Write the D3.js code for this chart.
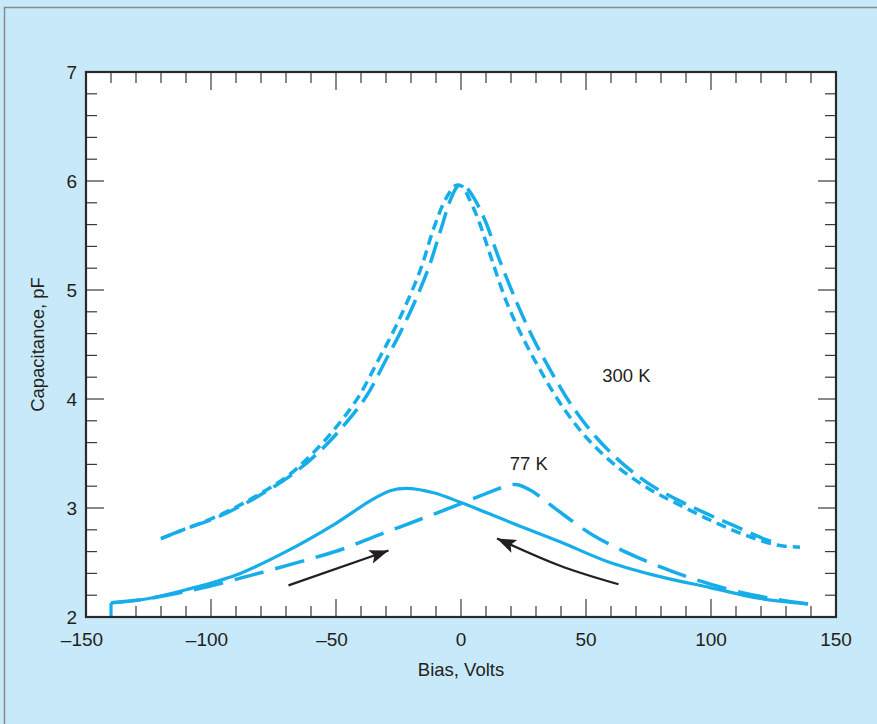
<!DOCTYPE html>
<html>
<head>
<meta charset="utf-8">
<script src="https://cdn.jsdelivr.net/npm/d3@7"></script>
<style>
  body { margin: 0; background: #c7e9f9; }
  svg { display: block; font-family: "Liberation Sans", Arial, Helvetica, sans-serif; }
</style>
</head>
<body>
<div id="chart"></div>
<script>
// bias (V), capacitance (pF)
var room300Short = [
  [-120, 2.72], [-110, 2.81], [-98, 2.92], [-85, 3.07], [-69, 3.30], [-59, 3.51],
  [-50, 3.74], [-41, 4.02], [-33, 4.36], [-27.5, 4.60], [-22.5, 4.84], [-16, 5.20],
  [-11, 5.56], [-6, 5.84], [-2, 5.96], [0.5, 5.95], [3, 5.85], [7, 5.64], [12, 5.30],
  [18.4, 4.88], [25, 4.55], [31.6, 4.27], [40, 3.95], [50.4, 3.64], [62.4, 3.38],
  [75.6, 3.17], [86.4, 3.04], [99.6, 2.89], [112.8, 2.76], [126.4, 2.66], [135.6, 2.64]
];
var room300Long = [
  [-120, 2.72], [-110, 2.81], [-97, 2.92], [-84, 3.07], [-68, 3.30], [-57, 3.51],
  [-47.5, 3.74], [-38, 4.02], [-30, 4.36], [-24.5, 4.60], [-19.5, 4.84], [-13, 5.20],
  [-8, 5.56], [-4, 5.84], [-1, 5.96], [1.5, 5.95], [5, 5.85], [9.6, 5.64], [15, 5.30],
  [22.4, 4.88], [29, 4.55], [35.6, 4.27], [44, 3.95], [54.4, 3.64], [65, 3.40],
  [76, 3.21], [87, 3.07], [98, 2.95], [109, 2.84], [120.8, 2.72], [127, 2.67]
];
var cold77Foot = [[-140, 2.0], [-140, 2.13]];
var cold77Solid = [
  [-140, 2.13], [-126, 2.165], [-110, 2.25], [-90, 2.385], [-70, 2.60], [-50, 2.86],
  [-36, 3.07], [-28, 3.16], [-22, 3.18], [-11, 3.14], [0, 3.05], [19.6, 2.87],
  [39.6, 2.69], [59.6, 2.50], [79.6, 2.37], [99.6, 2.27], [119.6, 2.17], [138.8, 2.12]
];
var cold77Dashed = [
  [-140, 2.13], [-126, 2.165], [-110, 2.235], [-103, 2.27], [-86, 2.37], [-67, 2.49],
  [-49, 2.61], [-32, 2.76], [-17, 2.89], [0, 3.04], [12, 3.15], [18, 3.20], [22, 3.215],
  [28, 3.16], [38, 2.99], [52.8, 2.75], [70.4, 2.55], [90.4, 2.37], [113, 2.22],
  [127, 2.16], [138.8, 2.12]
];
var arrowUp = [[-69, 2.29], [-29, 2.61]];
var arrowDown = [[63, 2.30], [39.6, 2.47], [14.4, 2.72]];

var xTicks = [-150, -100, -50, 0, 50, 100, 150];
var yTicks = [2, 3, 4, 5, 6, 7];
var curveLabels = [
  {text: "300 K", v: 56.5, c: 4.16},
  {text: "77 K", v: 19.5, c: 3.35}
];

var width = 877, height = 724;
var margin = {top: 72, right: 41, bottom: 107, left: 86};
var blue = "#17ade9";
var ink = "#231f20";

var x = d3.scaleLinear().domain([-150, 150]).range([margin.left, width - margin.right]);
var y = d3.scaleLinear().domain([2, 7]).range([height - margin.bottom, margin.top]);

var svg = d3.select("#chart").append("svg")
    .attr("width", width)
    .attr("height", height);

// panel frame
svg.append("rect")
    .attr("x", 4.5).attr("y", 7.5)
    .attr("width", width + 10).attr("height", height + 10)
    .attr("fill", "#c7e9f9")
    .attr("stroke", "#8a8a8a")
    .attr("stroke-width", 1.5);

svg.append("rect")
    .attr("x", x(-150)).attr("y", y(7))
    .attr("width", x(150) - x(-150)).attr("height", y(2) - y(7))
    .attr("fill", "white");

// arrow head
svg.append("defs").append("marker")
    .attr("id", "head")
    .attr("markerUnits", "userSpaceOnUse")
    .attr("viewBox", "-20 -8 22 16")
    .attr("refX", 0).attr("refY", 0)
    .attr("markerWidth", 22).attr("markerHeight", 16)
    .attr("orient", "auto")
    .append("path")
    .attr("d", "M0,0 L-19,-7 L-15,0 L-19,7 Z")
    .attr("fill", ink);

// ticks, inward on all four sides
var minorX = d3.range(-140, 150, 10);
var minorY = d3.range(2.2, 7, 0.2);

function tickLen(major) { return major ? 18 : 11; }

var tickG = svg.append("g").attr("stroke", "#3a3a3a").attr("stroke-width", 1.2);
minorX.forEach(function (v) {
  var len = tickLen(v % 50 === 0);
  tickG.append("line").attr("x1", x(v)).attr("x2", x(v)).attr("y1", y(2)).attr("y2", y(2) - len);
  tickG.append("line").attr("x1", x(v)).attr("x2", x(v)).attr("y1", y(7)).attr("y2", y(7) + len);
});
minorY.forEach(function (c) {
  var len = tickLen(Math.abs(c - Math.round(c)) < 1e-6);
  tickG.append("line").attr("x1", x(-150)).attr("x2", x(-150) + len).attr("y1", y(c)).attr("y2", y(c));
  tickG.append("line").attr("x1", x(150)).attr("x2", x(150) - len).attr("y1", y(c)).attr("y2", y(c));
});

// curves
var line = d3.line()
    .x(function (d) { return x(d[0]); })
    .y(function (d) { return y(d[1]); })
    .curve(d3.curveCatmullRom.alpha(0.5));

var straight = d3.line()
    .x(function (d) { return x(d[0]); })
    .y(function (d) { return y(d[1]); });

svg.append("path").datum(room300Long)
    .attr("d", line).attr("fill", "none")
    .attr("stroke", blue).attr("stroke-width", 3.5)
    .attr("stroke-dasharray", "22,9");

svg.append("path").datum(room300Short)
    .attr("d", line).attr("fill", "none")
    .attr("stroke", blue).attr("stroke-width", 3.5)
    .attr("stroke-dasharray", "10,6");

svg.append("path").datum(cold77Dashed)
    .attr("d", line).attr("fill", "none")
    .attr("stroke", blue).attr("stroke-width", 3.5)
    .attr("stroke-dasharray", "30,12");

svg.append("path").datum(cold77Solid)
    .attr("d", line).attr("fill", "none")
    .attr("stroke", blue).attr("stroke-width", 3.2);

svg.append("path").datum(cold77Foot)
    .attr("d", straight).attr("fill", "none")
    .attr("stroke", blue).attr("stroke-width", 3.2);

// arrows
svg.append("path").datum(arrowUp)
    .attr("d", straight).attr("fill", "none")
    .attr("stroke", ink).attr("stroke-width", 2.2)
    .attr("marker-end", "url(#head)");

svg.append("path").datum(arrowDown)
    .attr("d", d3.line()
        .x(function (d) { return x(d[0]); })
        .y(function (d) { return y(d[1]); })
        .curve(d3.curveNatural))
    .attr("fill", "none")
    .attr("stroke", ink).attr("stroke-width", 2.2)
    .attr("marker-end", "url(#head)");

// frame on top
svg.append("rect")
    .attr("x", x(-150)).attr("y", y(7))
    .attr("width", x(150) - x(-150)).attr("height", y(2) - y(7))
    .attr("fill", "none")
    .attr("stroke", "#2a2a2a").attr("stroke-width", 2.2);

// tick labels
var fmt = function (v) { return v < 0 ? "\u2013" + Math.abs(v) : String(v); };

svg.append("g").selectAll("text")
    .data(xTicks).join("text")
    .attr("x", function (d) { return x(d) - (d < 0 ? 4 : 0); })
    .attr("y", y(2) + 29)
    .attr("text-anchor", "middle")
    .attr("font-size", 19)
    .attr("fill", ink)
    .text(fmt);

svg.append("g").selectAll("text")
    .data(yTicks).join("text")
    .attr("x", x(-150) - 9)
    .attr("y", function (d) { return y(d) + 6.5; })
    .attr("text-anchor", "end")
    .attr("font-size", 19)
    .attr("fill", ink)
    .text(fmt);

// axis titles
svg.append("text")
    .attr("x", x(0))
    .attr("y", 676)
    .attr("text-anchor", "middle")
    .attr("font-size", 18.5)
    .attr("fill", ink)
    .text("Bias, Volts");

svg.append("text")
    .attr("transform", "translate(44," + y(4.5) + ") rotate(-90)")
    .attr("text-anchor", "middle")
    .attr("font-size", 18.5)
    .attr("fill", ink)
    .text("Capacitance, pF");

// curve labels
svg.append("g").selectAll("text")
    .data(curveLabels).join("text")
    .attr("x", function (d) { return x(d.v); })
    .attr("y", function (d) { return y(d.c); })
    .attr("font-size", 18.5)
    .attr("fill", ink)
    .text(function (d) { return d.text; });
</script>
</body>
</html>
